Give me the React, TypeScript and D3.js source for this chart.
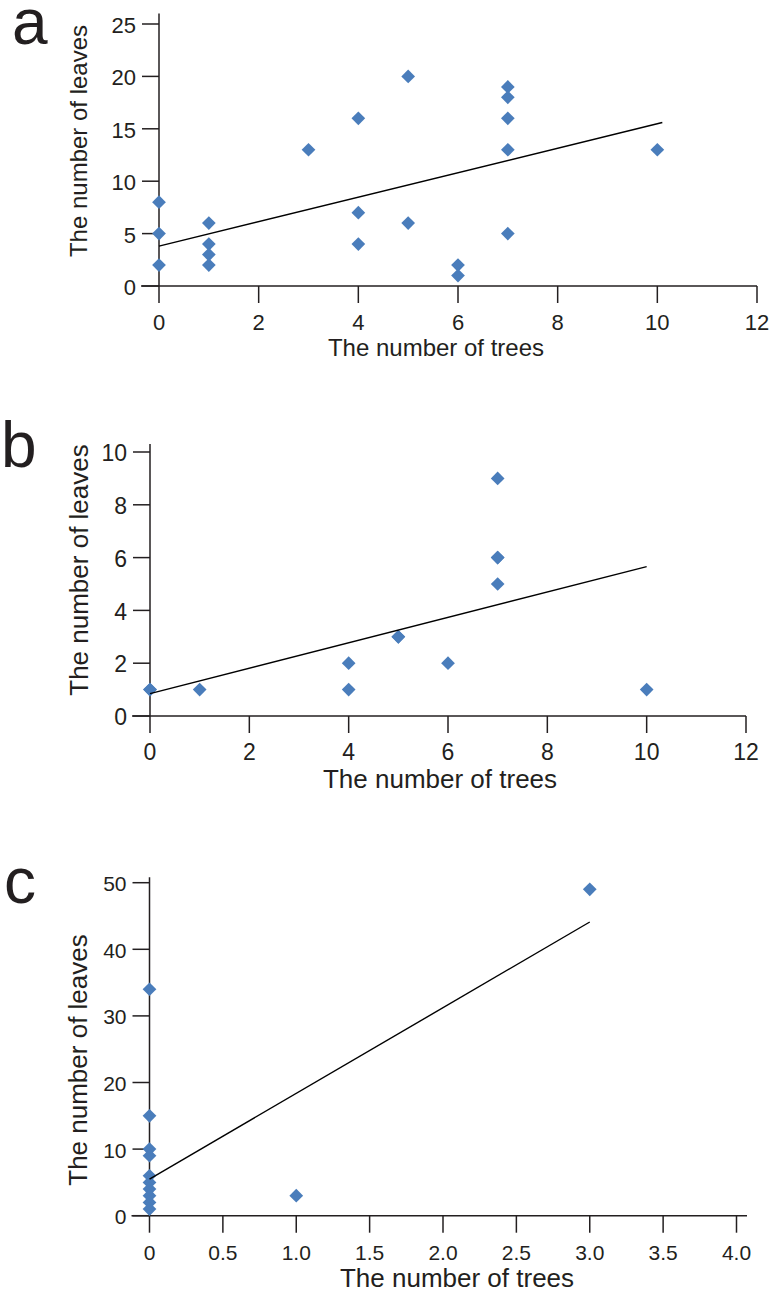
import React from "react";
import * as d3 from "d3";

// ---- Panel a data ----
const aTrees = [0, 0, 0, 1, 1, 1, 1, 3, 4, 4, 4, 5, 5, 6, 6, 7, 7, 7, 7, 7, 10];
const aLeaves = [8, 5, 2, 6, 4, 3, 2, 13, 16, 7, 4, 20, 6, 2, 1, 19, 18, 16, 13, 5, 13];
const aXTicks = [0, 2, 4, 6, 8, 10, 12];
const aYTicks = [0, 5, 10, 15, 20, 25];
const aFitX = [0, 10.1];
const aFitY = [3.8, 15.6];

// ---- Panel b data ----
const bTrees = [0, 0, 1, 4, 4, 5, 5, 6, 7, 7, 7, 7, 10];
const bLeaves = [1, 1, 1, 2, 1, 3, 3, 2, 9, 6, 6, 5, 1];
const bXTicks = [0, 2, 4, 6, 8, 10, 12];
const bYTicks = [0, 2, 4, 6, 8, 10];
const bFitX = [0, 10];
const bFitY = [0.85, 5.66];

// ---- Panel c data ----
const cTrees = [0, 0, 0, 0, 0, 0, 0, 0, 0, 0, 1, 3];
const cLeaves = [34, 15, 10, 9, 6, 5, 4, 3, 2, 1, 3, 49];
const cXTicks = [0, 0.5, 1, 1.5, 2, 2.5, 3, 3.5, 4];
const cYTicks = [0, 10, 20, 30, 40, 50];
const cFitX = [0, 3];
const cFitY = [5.5, 44.1];

const xTitle = "The number of trees";
const yTitle = "The number of leaves";

const INK = "#231f20";
const BLUE = "#4a7dbb";
const FONT = "'Liberation Sans', Arial, Helvetica, sans-serif";

type PanelProps = {
  label: string;
  labelX: number;
  labelY: number;
  trees: number[];
  leaves: number[];
  xTicks: number[];
  yTicks: number[];
  fitX: number[];
  fitY: number[];
  xDomain: [number, number];
  xRange: [number, number];
  yDomain: [number, number];
  yRange: [number, number];
  xAxisEnd: number;
  yAxisTop: number;
  xFmt: (v: number) => string;
  tickFont: number;
  titleFont: number;
  xTitleX: number;
  xTitleY: number;
  yTitleX: number;
  yTitleY: number;
};

function Panel(p: PanelProps) {
  const x = d3.scaleLinear().domain(p.xDomain).range(p.xRange);
  const y = d3.scaleLinear().domain(p.yDomain).range(p.yRange);
  const ax = x(0);
  const ay = y(0);
  const tick = 17;
  const diamond = d3.symbol().type(d3.symbolDiamond2).size(120)();
  const line = d3
    .line<number>()
    .x((_, i) => x(p.fitX[i]))
    .y((d) => y(d));
  return (
    <g>
      <text x={p.labelX} y={p.labelY} fontSize={64} fill={INK} fontFamily={FONT}>
        {p.label}
      </text>
      {/* axes */}
      <line x1={ax - 18} x2={p.xAxisEnd} y1={ay} y2={ay} stroke={INK} strokeWidth={1.5} />
      <line x1={ax} x2={ax} y1={y(p.yAxisTop)} y2={ay} stroke={INK} strokeWidth={1.5} />
      {p.xTicks.map((t) => (
        <g key={"x" + t}>
          <line x1={x(t)} x2={x(t)} y1={ay} y2={ay + tick} stroke={INK} strokeWidth={1.5} />
          <text
            x={x(t)}
            y={ay + 44}
            textAnchor="middle"
            fontSize={p.tickFont}
            fill={INK}
            fontFamily={FONT}
          >
            {p.xFmt(t)}
          </text>
        </g>
      ))}
      {p.yTicks.map((t) => (
        <g key={"y" + t}>
          <line x1={ax - tick} x2={ax} y1={y(t)} y2={y(t)} stroke={INK} strokeWidth={1.5} />
          <text
            x={ax - 23}
            y={y(t) + 1}
            dy="0.36em"
            textAnchor="end"
            fontSize={p.tickFont}
            fill={INK}
            fontFamily={FONT}
          >
            {String(t)}
          </text>
        </g>
      ))}
      {/* points */}
      {p.trees.map((t, i) => (
        <path
          key={"p" + i}
          d={diamond || ""}
          transform={`translate(${x(t)},${y(p.leaves[i])})`}
          fill={BLUE}
        />
      ))}
      {/* fit line */}
      <path d={line(p.fitY) || ""} fill="none" stroke="#000" strokeWidth={1.4} />
      {/* titles */}
      <text
        x={p.xTitleX}
        y={p.xTitleY}
        textAnchor="middle"
        fontSize={p.titleFont}
        fill={INK}
        fontFamily={FONT}
      >
        {xTitle}
      </text>
      <text
        transform={`translate(${p.yTitleX},${p.yTitleY}) rotate(-90)`}
        textAnchor="middle"
        fontSize={p.titleFont}
        fill={INK}
        fontFamily={FONT}
      >
        {yTitle}
      </text>
    </g>
  );
}

const intFmt = (v: number) => String(v);
const decFmt = (v: number) => (v === 0 ? "0" : v.toFixed(1));

export default function App() {
  return (
    <svg
      width={770}
      height={1292}
      style={{ position: "absolute", left: 0, top: 0, background: "#fff" }}
    >
      <rect width={770} height={1292} fill="#fff" />
      <Panel
        label="a"
        labelX={12}
        labelY={44}
        trees={aTrees}
        leaves={aLeaves}
        xTicks={aXTicks}
        yTicks={aYTicks}
        fitX={aFitX}
        fitY={aFitY}
        xDomain={[0, 12]}
        xRange={[159, 757]}
        yDomain={[0, 25]}
        yRange={[286, 24]}
        xAxisEnd={757}
        yAxisTop={26}
        xFmt={intFmt}
        tickFont={22}
        titleFont={24}
        xTitleX={436}
        xTitleY={356}
        yTitleX={87}
        yTitleY={141}
      />
      <Panel
        label="b"
        labelX={1}
        labelY={467}
        trees={bTrees}
        leaves={bLeaves}
        xTicks={bXTicks}
        yTicks={bYTicks}
        fitX={bFitX}
        fitY={bFitY}
        xDomain={[0, 12]}
        xRange={[150, 746]}
        yDomain={[0, 10]}
        yRange={[716, 452]}
        xAxisEnd={746}
        yAxisTop={10.3}
        xFmt={intFmt}
        tickFont={23}
        titleFont={26}
        xTitleX={440}
        xTitleY={788}
        yTitleX={88}
        yTitleY={570}
      />
      <Panel
        label="c"
        labelX={4}
        labelY={903}
        trees={cTrees}
        leaves={cLeaves}
        xTicks={cXTicks}
        yTicks={cYTicks}
        fitX={cFitX}
        fitY={cFitY}
        xDomain={[0, 4]}
        xRange={[149.5, 736.5]}
        yDomain={[0, 50]}
        yRange={[1215.7, 882.7]}
        xAxisEnd={747}
        yAxisTop={50.8}
        xFmt={decFmt}
        tickFont={21}
        titleFont={26}
        xTitleX={457}
        xTitleY={1287}
        yTitleX={87}
        yTitleY={1060}
      />
    </svg>
  );
}
